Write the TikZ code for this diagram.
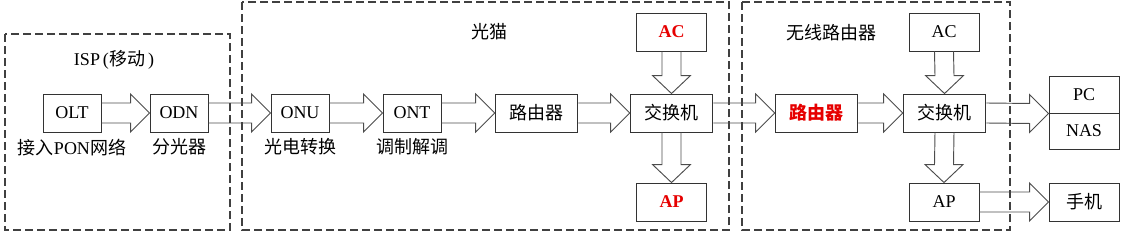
\documentclass[tikz,border=0pt]{standalone}
\usepackage{fontspec}
\setmainfont{Liberation Serif}
\newfontfamily\cjk{Noto Sans CJK SC}
\usetikzlibrary{calc,positioning}
\definecolor{hotred}{RGB}{230,0,0}
\tikzset{
  box/.style={draw=black!80, line width=0.7pt, minimum width=43.5pt, minimum height=28.5pt, inner sep=0pt, font=\fontsize{13.5}{15}\selectfont},
  widebox/.style={box, minimum width=62pt},
  midbox/.style={box, minimum width=52.5pt},
  hot/.style={text=hotred, font=\fontsize{13.5}{15}\selectfont\bfseries},
  fat/.style={draw=black!70, line width=0.7pt, line join=miter},
  zone/.style={draw=black!75, line width=0.9pt, dash pattern=on 6pt off 3pt},
  tag/.style={font=\fontsize{13.5}{15}\selectfont, inner sep=1pt}
}
% horizontal and vertical hollow arrows
\newcommand{\hfat}[2]{%
  \draw[fat] ($(#1)+(0,-10)$) -- ($(#2)+(-19,-10)$) -- ($(#2)+(-19,-19)$) -- (#2)
    -- ($(#2)+(-19,19)$) -- ($(#2)+(-19,10)$) -- ($(#1)+(0,10)$);}
\newcommand{\vfat}[2]{%
  \draw[fat] ($(#1)+(-9.5,0)$) -- ($(#2)+(-9.5,-18)$) -- ($(#2)+(-19,-18)$) -- (#2)
    -- ($(#2)+(19,-18)$) -- ($(#2)+(9.5,-18)$) -- ($(#1)+(9.5,0)$);}
\begin{document}
\begin{tikzpicture}[x=0.75pt, y=-0.75pt]
  \useasboundingbox (0,0) rectangle (1125,232);
  % dashed zones
  \draw[zone] (5,34) rectangle (230,230);
  \draw[zone] (242,2) rectangle (729,230);
  \draw[zone] (742,2) rectangle (1010,230);
  \node[tag] (ispT) at (114,60) {ISP\,({\cjk 移动}\,)};
  \node[tag] (modemT) at (489,32) {\cjk 光猫};
  \node[tag] (wifiT) at (831,33) {\cjk 无线路由器};
  % ISP side
  \node[box] (olt) at (72,113) {OLT};
  \node[box] (odn) at (179,113) {ODN};
  % optical modem
  \node[box] (onu) at (300,113) {ONU};
  \node[box] (ont) at (412,113) {ONT};
  \node[widebox] (rtA) at (536.5,113) {\cjk 路由器};
  \node[widebox] (swA) at (671.5,113) {\cjk 交换机};
  \node[midbox, hot] (acA) at (671.5,32) {AC};
  \node[midbox, hot] (apA) at (671.5,202) {AP};
  % wireless router
  \node[widebox, hot] (rtB) at (816.5,113) {\cjk\bfseries 路由器};
  \node[widebox] (swB) at (944.5,113) {\cjk 交换机};
  \node[midbox] (acB) at (944,32) {AC};
  \node[midbox] (apB) at (944,202) {AP};
  % end devices
  \node[midbox, minimum height=27.75pt] (pc) at (1084,94.5) {PC};
  \node[midbox, minimum height=27pt] (nas) at (1084,131) {NAS};
  \node[midbox] (phone) at (1084,202) {\cjk 手机};
  % captions
  \node[tag, below=3.5pt of olt] (oltT) {{\cjk 接入}PON{\cjk 网络}};
  \node[tag, below=3.5pt of odn] (odnT) {\cjk 分光器};
  \node[tag, below=3.5pt of onu] (onuT) {\cjk 光电转换};
  \node[tag, below=3.5pt of ont] (ontT) {\cjk 调制解调};
  % arrows
  \hfat{olt.east}{odn.west}
  \hfat{odn.east}{onu.west}
  \hfat{onu.east}{ont.west}
  \hfat{ont.east}{rtA.west}
  \hfat{rtA.east}{swA.west}
  \hfat{swA.east}{rtB.west}
  \hfat{rtB.east}{swB.west}
  \hfat{swB.east}{pc.south west}
  \hfat{apB.east}{phone.west}
  \vfat{acA.south}{swA.north}
  \vfat{swA.south}{apA.north}
  \vfat{acB.south}{swB.north}
  \vfat{swB.south}{apB.north}
\end{tikzpicture}
\end{document}
